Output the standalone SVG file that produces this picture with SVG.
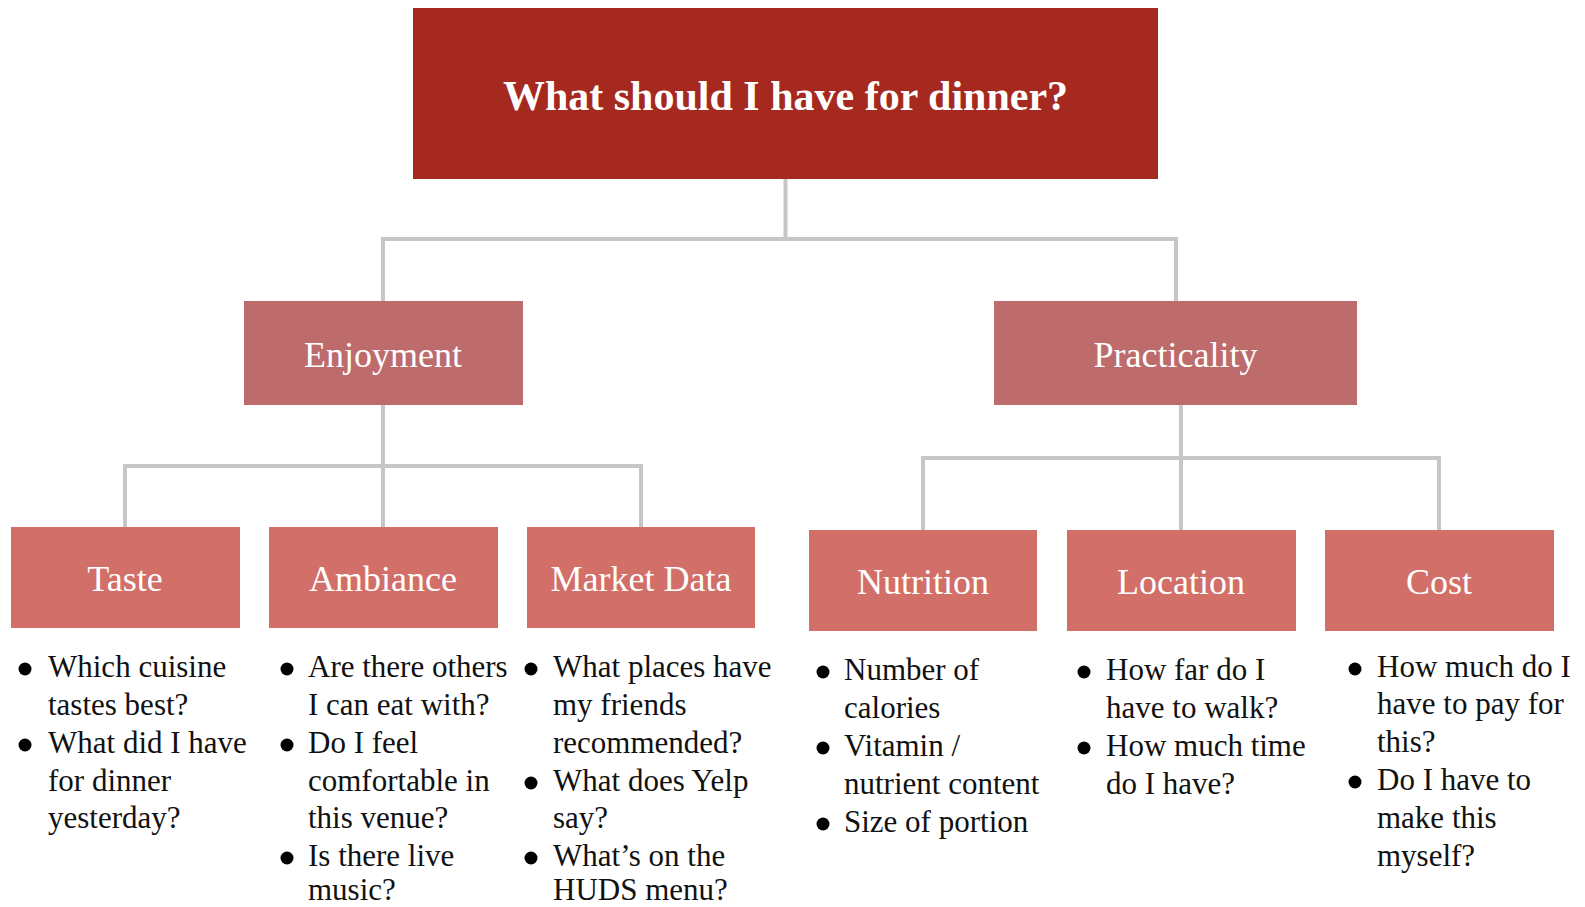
<svg xmlns="http://www.w3.org/2000/svg" width="1585" height="907" viewBox="0 0 1585 907">
<style>
.root{fill:#a5291f}
.l2{fill:#bd6b6b}
.l3{fill:#d16f68}
.conn{fill:none;stroke:#c6c6c6;stroke-width:4}
.title{font-family:"Liberation Serif",serif;font-weight:bold;font-size:42px;fill:#fff;text-anchor:middle}
.lbl{font-family:"Liberation Serif",serif;font-size:36px;fill:#fff;text-anchor:middle}
.item{font-family:"Liberation Serif",serif;font-size:31px;fill:#111}
.bul{fill:#000}
</style>
<rect width="1585" height="907" fill="#fff"/>
<g id="connectors">
<path class="conn" d="M785.5 179 V239 M383 301 V239 H1176 V301"/>
<path class="conn" d="M383 405 V466 M125 527 V466 H641 V527 M383 466 V527"/>
<path class="conn" d="M1181 405 V458 M923 530 V458 H1439 V530 M1181 458 V530"/>
</g>
<g id="root">
<rect class="root" x="413" y="8" width="745" height="171"/>
<text class="title" x="785.5" y="110">What should I have for dinner?</text>
</g>
<g id="enjoyment">
<rect class="l2" x="244" y="301" width="279" height="104"/>
<text class="lbl" x="383" y="367">Enjoyment</text>
</g>
<g id="practicality">
<rect class="l2" x="994" y="301" width="363" height="104"/>
<text class="lbl" x="1175.5" y="367">Practicality</text>
</g>
<g id="taste">
<rect class="l3" x="11" y="527" width="229" height="101"/>
<text class="lbl" x="125" y="591">Taste</text>
<circle class="bul" cx="25" cy="669" r="6.5"/>
<circle class="bul" cx="25" cy="745" r="6.5"/>
<text class="item"><tspan x="48" y="677">Which cuisine</tspan><tspan x="48" y="715">tastes best?</tspan><tspan x="48" y="753">What did I have</tspan><tspan x="48" y="791">for dinner</tspan><tspan x="48" y="828">yesterday?</tspan></text>
</g>
<g id="ambiance">
<rect class="l3" x="269" y="527" width="229" height="101"/>
<text class="lbl" x="383" y="591">Ambiance</text>
<circle class="bul" cx="287" cy="669" r="6.5"/>
<circle class="bul" cx="287" cy="745" r="6.5"/>
<circle class="bul" cx="287" cy="858" r="6.5"/>
<text class="item"><tspan x="308" y="677">Are there others</tspan><tspan x="308" y="715">I can eat with?</tspan><tspan x="308" y="753">Do I feel</tspan><tspan x="308" y="791">comfortable in</tspan><tspan x="308" y="828">this venue?</tspan><tspan x="308" y="866">Is there live</tspan><tspan x="308" y="900">music?</tspan></text>
</g>
<g id="market-data">
<rect class="l3" x="527" y="527" width="228" height="101"/>
<text class="lbl" x="641" y="591">Market Data</text>
<circle class="bul" cx="531" cy="669" r="6.5"/>
<circle class="bul" cx="531" cy="783" r="6.5"/>
<circle class="bul" cx="531" cy="858" r="6.5"/>
<text class="item"><tspan x="553" y="677">What places have</tspan><tspan x="553" y="715">my friends</tspan><tspan x="553" y="753">recommended?</tspan><tspan x="553" y="791">What does Yelp</tspan><tspan x="553" y="828">say?</tspan><tspan x="553" y="866">What’s on the</tspan><tspan x="553" y="900">HUDS menu?</tspan></text>
</g>
<g id="nutrition">
<rect class="l3" x="809" y="530" width="228" height="101"/>
<text class="lbl" x="923" y="594">Nutrition</text>
<circle class="bul" cx="823" cy="672" r="6.5"/>
<circle class="bul" cx="823" cy="748" r="6.5"/>
<circle class="bul" cx="823" cy="824" r="6.5"/>
<text class="item"><tspan x="844" y="680">Number of</tspan><tspan x="844" y="718">calories</tspan><tspan x="844" y="756">Vitamin /</tspan><tspan x="844" y="794">nutrient content</tspan><tspan x="844" y="832">Size of portion</tspan></text>
</g>
<g id="location">
<rect class="l3" x="1067" y="530" width="229" height="101"/>
<text class="lbl" x="1181" y="594">Location</text>
<circle class="bul" cx="1084" cy="672" r="6.5"/>
<circle class="bul" cx="1084" cy="748" r="6.5"/>
<text class="item"><tspan x="1106" y="680">How far do I</tspan><tspan x="1106" y="718">have to walk?</tspan><tspan x="1106" y="756">How much time</tspan><tspan x="1106" y="794">do I have?</tspan></text>
</g>
<g id="cost">
<rect class="l3" x="1325" y="530" width="229" height="101"/>
<text class="lbl" x="1439" y="594">Cost</text>
<circle class="bul" cx="1355" cy="669" r="6.5"/>
<circle class="bul" cx="1355" cy="782" r="6.5"/>
<text class="item"><tspan x="1377" y="677">How much do I</tspan><tspan x="1377" y="714">have to pay for</tspan><tspan x="1377" y="752">this?</tspan><tspan x="1377" y="790">Do I have to</tspan><tspan x="1377" y="828">make this</tspan><tspan x="1377" y="866">myself?</tspan></text>
</g>
</svg>
